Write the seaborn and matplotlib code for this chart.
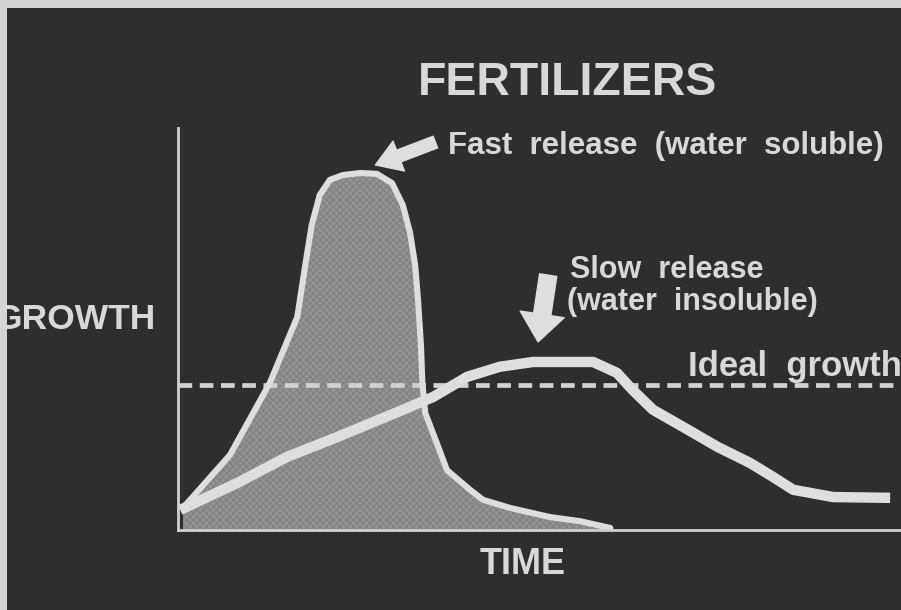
import numpy as np
import pandas as pd
import matplotlib
matplotlib.use("Agg")
import matplotlib.pyplot as plt
import seaborn as sns
from matplotlib.patches import Rectangle

# ---------------- data ----------------
fast_time = [0.7, 7.2, 12.7, 16.5, 17.6, 18.5, 19.6, 21.0, 22.8, 25.2, 27.5,
             29.6, 31.1, 32.1, 32.8, 33.2, 33.6, 33.8, 34.2, 35.8, 37.2, 40.4,
             42.2, 45.9, 51.5, 55.6, 59.8]
fast_growth = [5.5, 18.7, 36.6, 53.0, 65.9, 75.9, 83.3, 87.1, 88.3, 88.8, 88.6,
               86.3, 80.8, 73.9, 65.9, 57.2, 46.0, 36.6, 29.1, 21.6, 14.9, 10.0,
               7.5, 5.5, 3.2, 2.2, 0.5]
slow_time = [0.3, 8.2, 15.1, 22.0, 31.1, 35.3, 40.0, 44.5, 49.1, 57.4, 60.7,
             62.9, 65.7, 69.9, 74.6, 79.1, 82.3, 85.1, 90.6, 98.5]
slow_growth = [5.0, 11.7, 18.2, 23.1, 29.9, 33.1, 38.1, 40.6, 41.8, 41.8, 39.1,
               34.8, 29.9, 25.6, 20.7, 16.7, 13.2, 10.0, 8.2, 8.0]
ideal_time = [0, 100]
ideal_growth = [36.1, 36.1]

title = "FERTILIZERS"
x_label = "TIME"
y_label = "GROWTH"
fast_label = "Fast  release  (water  soluble)"
slow_label_1 = "Slow  release"
slow_label_2 = "(water  insoluble)"
ideal_label = "Ideal  growth"

fast_df = pd.DataFrame({"time": fast_time, "growth": fast_growth})
slow_df = pd.DataFrame({"time": slow_time, "growth": slow_growth})
ideal_df = pd.DataFrame({"time": ideal_time, "growth": ideal_growth})

# ---------------- style ----------------
sns.set_theme(style="dark")
plt.rcParams["font.family"] = ["Liberation Sans", "DejaVu Sans"]
plt.rcParams["hatch.linewidth"] = 0.5

W, H = 901, 610
BG = "#2e2e2e"
BORDER = "#d4d4d4"
LINE = "#dedede"
TXT = "#d8d8d8"
FILL = "#929292"

fig = plt.figure(figsize=(W / 100, H / 100), dpi=100)
fig.patch.set_facecolor(BORDER)
fig.patches.append(Rectangle((7 / W, 0), 1, 1 - 8 / H, transform=fig.transFigure,
                             facecolor=BG, edgecolor="none", zorder=-10))

# axes: left x=178px, right 901px, bottom y=530px, top y=128px
ax = fig.add_axes([178 / W, 1 - 530 / H, (901 - 178) / W, (530 - 128) / H])
ax.set_facecolor("none")
ax.set_xlim(0, 100)
ax.set_ylim(0, 100)

# filled fast-release area
ax.fill_between(fast_df["time"], fast_df["growth"], 0, facecolor=FILL,
                edgecolor="#7a7a7a", hatch="xxxxx", linewidth=0, zorder=1)

# ideal growth dashed line
sns.lineplot(data=ideal_df, x="time", y="growth", ax=ax, color="#d2d2d2",
             linewidth=3.4, linestyle=(0, (2.9, 1.6)), zorder=2)

# fast release outline
sns.lineplot(data=fast_df, x="time", y="growth", ax=ax, sort=False,
             estimator=None, color=LINE, linewidth=4.4, zorder=3,
             solid_capstyle="round", solid_joinstyle="round")

# slow release curve
sns.lineplot(data=slow_df, x="time", y="growth", ax=ax, sort=False,
             estimator=None, color=LINE, linewidth=7.5, zorder=4,
             solid_capstyle="butt", solid_joinstyle="round")

ax.set_xlabel("")
ax.set_ylabel("")
ax.set_xticks([])
ax.set_yticks([])
for s in ["top", "right"]:
    ax.spines[s].set_visible(False)
for s in ["left", "bottom"]:
    ax.spines[s].set_visible(True)
    ax.spines[s].set_color("#d0d0d0")
    ax.spines[s].set_linewidth(2.0)
    ax.spines[s].set_zorder(5)

# arrows
ax.annotate("", xy=(27.3, 90.8), xytext=(35.6, 96.5),
            arrowprops=dict(arrowstyle="simple,head_length=1.8,head_width=2.3,tail_width=0.9",
                            mutation_scale=10, color=LINE, shrinkA=0, shrinkB=0),
            annotation_clip=False, zorder=6)
ax.annotate("", xy=(49.8, 46.8), xytext=(51.2, 63.4),
            arrowprops=dict(arrowstyle="simple,head_length=2.0,head_width=3.2,tail_width=1.25",
                            mutation_scale=10, color=LINE, shrinkA=0, shrinkB=0),
            annotation_clip=False, zorder=6)

# texts (figure pixel helper)
def fx(px):
    return px / W

def fy(py):
    return 1 - py / H

fig.text(fx(568), fy(95), title, ha="center", va="baseline", fontsize=33.5,
         fontweight="bold", color=TXT)
fig.text(fx(448), fy(154), fast_label, ha="left", va="baseline", fontsize=22.5,
         fontweight="bold", color=TXT)
fig.text(fx(570), fy(278), slow_label_1, ha="left", va="baseline", fontsize=22,
         fontweight="bold", color=TXT)
fig.text(fx(567), fy(310), slow_label_2, ha="left", va="baseline", fontsize=22,
         fontweight="bold", color=TXT)
fig.text(fx(688), fy(376), ideal_label, ha="left", va="baseline", fontsize=25,
         fontweight="bold", color=TXT)
fig.text(fx(156), fy(329), y_label, ha="right", va="baseline", fontsize=25.5,
         fontweight="bold", color=TXT)
fig.text(fx(523), fy(574), x_label, ha="center", va="baseline", fontsize=26,
         fontweight="bold", color=TXT)

fig.savefig("out.png", dpi=100, facecolor=fig.get_facecolor())
